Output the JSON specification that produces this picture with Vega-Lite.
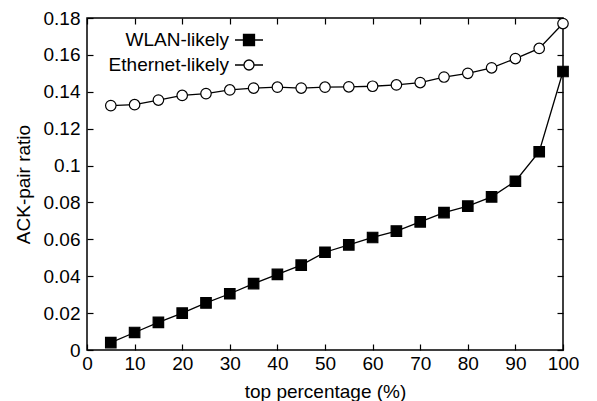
{
  "$schema": "https://vega.github.io/schema/vega-lite/v6.json",
  "width": 476,
  "height": 332,
  "autosize": "none",
  "padding": {"left": 87, "top": 18, "right": 34, "bottom": 51},
  "config": {
    "font": "Liberation Sans",
    "view": {"stroke": "black", "strokeWidth": 1.5},
    "axis": {
      "grid": false,
      "domain": false,
      "tickColor": "black",
      "tickSize": -6,
      "tickWidth": 1.2,
      "labelFontSize": 19,
      "labelColor": "black",
      "titleFontSize": 19,
      "titleFontWeight": "normal",
      "titleColor": "black"
    },
    "legend": {"labelFontSize": 19, "labelColor": "black"}
  },
  "data": {
    "values": [
      {"pct": 5, "ratio": 0.004, "series": "WLAN-likely"},
      {"pct": 10, "ratio": 0.0095, "series": "WLAN-likely"},
      {"pct": 15, "ratio": 0.015, "series": "WLAN-likely"},
      {"pct": 20, "ratio": 0.020, "series": "WLAN-likely"},
      {"pct": 25, "ratio": 0.0255, "series": "WLAN-likely"},
      {"pct": 30, "ratio": 0.0305, "series": "WLAN-likely"},
      {"pct": 35, "ratio": 0.036, "series": "WLAN-likely"},
      {"pct": 40, "ratio": 0.041, "series": "WLAN-likely"},
      {"pct": 45, "ratio": 0.046, "series": "WLAN-likely"},
      {"pct": 50, "ratio": 0.053, "series": "WLAN-likely"},
      {"pct": 55, "ratio": 0.057, "series": "WLAN-likely"},
      {"pct": 60, "ratio": 0.061, "series": "WLAN-likely"},
      {"pct": 65, "ratio": 0.0645, "series": "WLAN-likely"},
      {"pct": 70, "ratio": 0.0695, "series": "WLAN-likely"},
      {"pct": 75, "ratio": 0.0745, "series": "WLAN-likely"},
      {"pct": 80, "ratio": 0.078, "series": "WLAN-likely"},
      {"pct": 85, "ratio": 0.083, "series": "WLAN-likely"},
      {"pct": 90, "ratio": 0.0915, "series": "WLAN-likely"},
      {"pct": 95, "ratio": 0.1075, "series": "WLAN-likely"},
      {"pct": 100, "ratio": 0.151, "series": "WLAN-likely"},
      {"pct": 5, "ratio": 0.1325, "series": "Ethernet-likely"},
      {"pct": 10, "ratio": 0.133, "series": "Ethernet-likely"},
      {"pct": 15, "ratio": 0.1355, "series": "Ethernet-likely"},
      {"pct": 20, "ratio": 0.138, "series": "Ethernet-likely"},
      {"pct": 25, "ratio": 0.139, "series": "Ethernet-likely"},
      {"pct": 30, "ratio": 0.141, "series": "Ethernet-likely"},
      {"pct": 35, "ratio": 0.142, "series": "Ethernet-likely"},
      {"pct": 40, "ratio": 0.1425, "series": "Ethernet-likely"},
      {"pct": 45, "ratio": 0.142, "series": "Ethernet-likely"},
      {"pct": 50, "ratio": 0.1425, "series": "Ethernet-likely"},
      {"pct": 55, "ratio": 0.1427, "series": "Ethernet-likely"},
      {"pct": 60, "ratio": 0.143, "series": "Ethernet-likely"},
      {"pct": 65, "ratio": 0.1437, "series": "Ethernet-likely"},
      {"pct": 70, "ratio": 0.145, "series": "Ethernet-likely"},
      {"pct": 75, "ratio": 0.148, "series": "Ethernet-likely"},
      {"pct": 80, "ratio": 0.150, "series": "Ethernet-likely"},
      {"pct": 85, "ratio": 0.153, "series": "Ethernet-likely"},
      {"pct": 90, "ratio": 0.158, "series": "Ethernet-likely"},
      {"pct": 95, "ratio": 0.1635, "series": "Ethernet-likely"},
      {"pct": 100, "ratio": 0.177, "series": "Ethernet-likely"}
    ]
  },
  "layer": [
    {
      "mark": {"type": "line", "color": "black", "strokeWidth": 1.3},
      "encoding": {
        "x": {"field": "pct", "type": "quantitative", "scale": {"domain": [0, 100], "nice": false},
              "axis": {"orient": "top", "labels": false, "title": null, "values": [0,10,20,30,40,50,60,70,80,90,100]}},
        "y": {"field": "ratio", "type": "quantitative", "scale": {"domain": [0, 0.18], "nice": false, "zero": false},
              "axis": {"orient": "right", "labels": false, "title": null, "values": [0,0.02,0.04,0.06,0.08,0.1,0.12,0.14,0.16,0.18]}},
        "detail": {"field": "series"}
      }
    },
    {
      "mark": {"type": "point", "filled": true, "stroke": "black", "strokeWidth": 1.2, "opacity": 1, "size": 110},
      "encoding": {
        "x": {"field": "pct", "type": "quantitative", "title": "top percentage (%)",
              "axis": {"orient": "bottom", "values": [0,10,20,30,40,50,60,70,80,90,100], "labelFlush": false, "labelPadding": 10, "titlePadding": 9}},
        "y": {"field": "ratio", "type": "quantitative", "title": "ACK-pair ratio",
              "axis": {"orient": "left", "format": ".2~f", "values": [0,0.02,0.04,0.06,0.08,0.1,0.12,0.14,0.16,0.18], "labelPadding": 13, "titlePadding": 10}},
        "shape": {"field": "series", "type": "nominal",
                  "scale": {"domain": ["WLAN-likely", "Ethernet-likely"], "range": ["square", "circle"]},
                  "legend": null},
        "fill": {"field": "series", "type": "nominal",
                 "scale": {"domain": ["WLAN-likely", "Ethernet-likely"], "range": ["black", "white"]},
                 "legend": null}
      }
    },
    {
      "transform": [{"filter": "false"}],
      "mark": {"type": "point", "filled": true, "opacity": 1, "size": 400, "strokeWidth": 1.3},
      "encoding": {
        "x": {"field": "pct", "type": "quantitative", "axis": null},
        "y": {"field": "ratio", "type": "quantitative", "axis": null},
        "shape": {"field": "series", "type": "nominal",
                  "scale": {"domain": ["WLAN-likely", "Ethernet-likely"],
                            "range": ["M-1.4,0H-0.55M0.55,0H1.4M-0.55,-0.55H0.55V0.55H-0.55Z",
                                      "M-1.4,0H-0.5M0.5,0H1.4M-0.5,0A0.5,0.5 0 1,0 0.5,0A0.5,0.5 0 1,0 -0.5,0Z"]},
                  "legend": {"title": null, "orient": "none", "legendX": 151, "legendY": 11, "padding": 0,
                             "symbolSize": 400, "symbolStrokeWidth": 1.3, "symbolOpacity": 1,
                             "rowPadding": 4, "labelAlign": "right", "labelOffset": -31}},
        "fill": {"field": "series", "type": "nominal",
                 "scale": {"domain": ["WLAN-likely", "Ethernet-likely"], "range": ["black", "white"]},
                 "legend": {"title": null, "orient": "none", "legendX": 151, "legendY": 11, "padding": 0,
                            "symbolSize": 400, "symbolStrokeWidth": 1.3, "symbolOpacity": 1,
                            "rowPadding": 4, "labelAlign": "right", "labelOffset": -31}},
        "stroke": {"field": "series", "type": "nominal",
                   "scale": {"domain": ["WLAN-likely", "Ethernet-likely"], "range": ["black", "black"]},
                   "legend": {"title": null, "orient": "none", "legendX": 151, "legendY": 11, "padding": 0,
                              "symbolSize": 400, "symbolStrokeWidth": 1.3, "symbolOpacity": 1,
                              "rowPadding": 4, "labelAlign": "right", "labelOffset": -31}}
      }
    }
  ],
  "resolve": {
    "axis": {"x": "independent", "y": "independent"},
    "scale": {"shape": "independent", "fill": "independent", "stroke": "independent"}
  }
}
